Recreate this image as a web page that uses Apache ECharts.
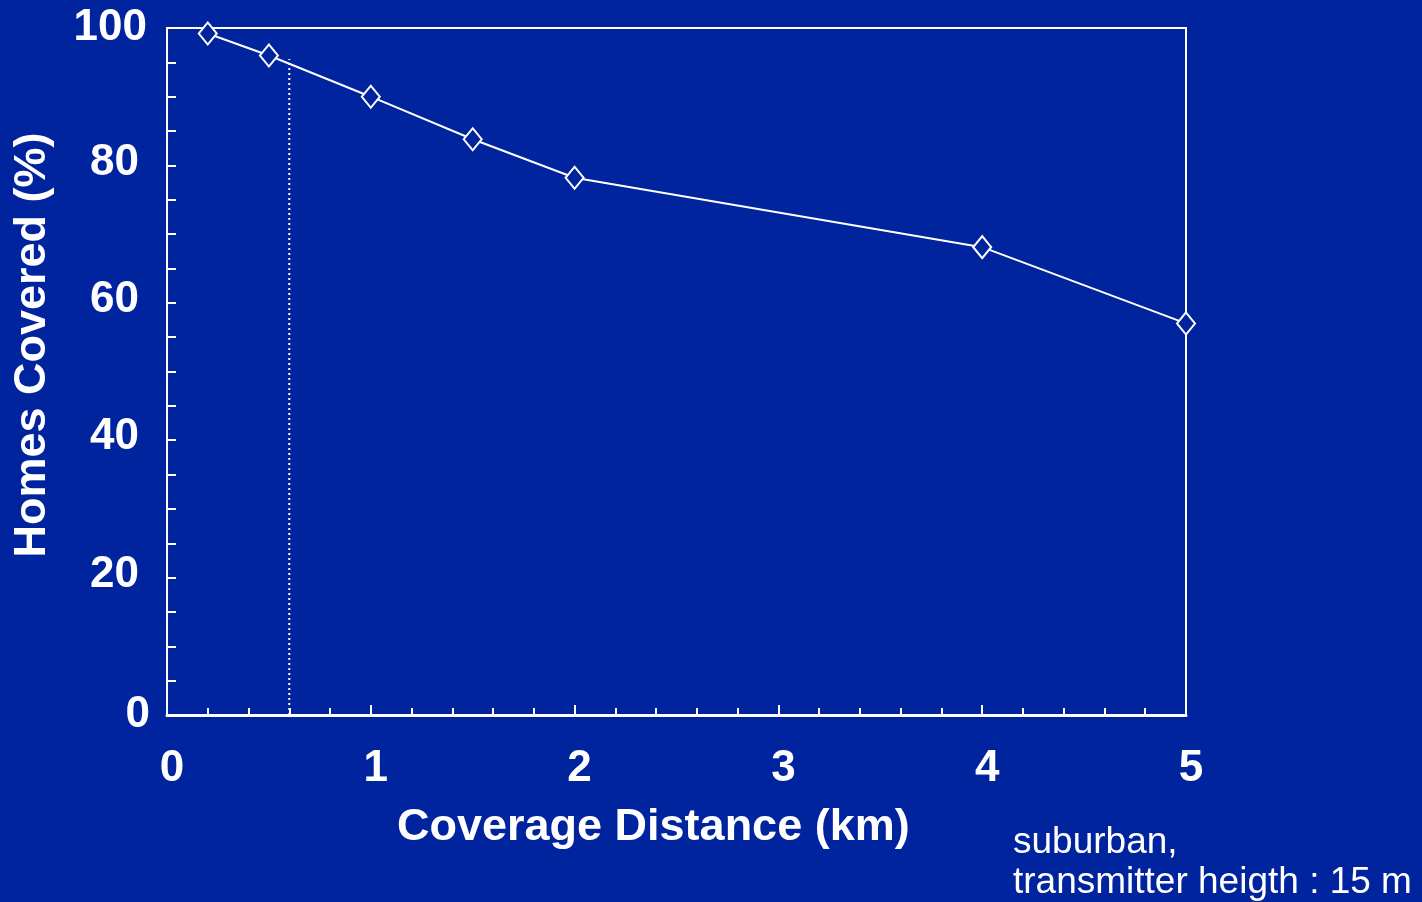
<!DOCTYPE html>
<html>
<head>
<meta charset="utf-8">
<script src="https://cdn.jsdelivr.net/npm/echarts@6/dist/echarts.min.js"></script>
<style>
html,body{margin:0;padding:0;background:#00239E;}
#c{width:1422px;height:902px;}
</style>
</head>
<body>
<div id="c"></div>
<script>
// Data
var distanceKm = [0.2, 0.5, 1.0, 1.5, 2.0, 4.0, 5.0];
var homesCovered = [99.2, 96.0, 90.0, 83.8, 78.2, 68.1, 57.0];
var markerLineX = [0.6, 0.6];
var markerLineY = [0, 95.5];
var xTickLabels = ['0', '1', '2', '3', '4', '5'];
var yTickLabels = ['0', '20', '40', '60', '80', '100'];

var BG = '#00239E';
var FONT = '"Liberation Sans", Arial, Helvetica, sans-serif';

var chart = echarts.init(document.getElementById('c'), null, {renderer: 'canvas'});
chart.setOption({
  backgroundColor: BG,
  animation: false,
  grid: {left: 167, right: 236, top: 28, bottom: 187, show: true, borderColor: '#fff', borderWidth: 2, backgroundColor: 'transparent'},
  xAxis: {
    type: 'value', min: 0, max: 5, interval: 1,
    axisLine: {show: true, lineStyle: {color: '#fff', width: 3}},
    axisTick: {show: true, inside: true, length: 10, lineStyle: {color: '#fff', width: 2}},
    minorTick: {show: true, splitNumber: 5, length: 7, lineStyle: {color: '#fff', width: 2}},
    splitLine: {show: false},
    axisLabel: {
      color: '#fff', fontFamily: FONT, fontWeight: 'bold', fontSize: 44, margin: 32,
      padding: [0, 0, 0, 10],
      formatter: function (v) { return xTickLabels[Math.round(v)]; }
    }
  },
  yAxis: {
    type: 'value', min: 0, max: 100, interval: 20,
    axisLine: {show: true, lineStyle: {color: '#fff', width: 2}},
    axisTick: {show: true, inside: true, length: 9, lineStyle: {color: '#fff', width: 2}},
    minorTick: {show: true, splitNumber: 4, length: 9, lineStyle: {color: '#fff', width: 2}},
    splitLine: {show: false},
    axisLabel: {
      color: '#fff', fontFamily: FONT, fontWeight: 'bold', fontSize: 44, margin: 17,
      formatter: function (v) {
        var t = yTickLabels[Math.round(v / 20)];
        if (t.length === 1) return '{a|' + t + '}';
        if (t.length === 2) return '{b|' + t + '}';
        return '{c|' + t + '}';
      },
      rich: {
        a: {color: '#fff', fontFamily: FONT, fontWeight: 'bold', fontSize: 44, padding: [0, 0, 0, 0]},
        b: {color: '#fff', fontFamily: FONT, fontWeight: 'bold', fontSize: 44, padding: [0, 11, 6, 0]},
        c: {color: '#fff', fontFamily: FONT, fontWeight: 'bold', fontSize: 44, padding: [0, 3, 0, 0]}
      }
    }
  },
  graphic: [
    {type: 'text', left: 397, top: 805, style: {text: 'Coverage Distance (km)', fill: '#fff', font: 'bold 45px ' + FONT}},
    {type: 'text', x: 33, y: 345, rotation: Math.PI / 2, style: {text: 'Homes Covered (%)', fill: '#fff', font: 'bold 45px ' + FONT, textAlign: 'center', textVerticalAlign: 'middle'}},
    {type: 'text', left: 1013, top: 823, style: {text: 'suburban,\ntransmitter heigth : 15 m', fill: '#fff', font: '37px ' + FONT, lineHeight: 40}}
  ],
  series: [
    {
      type: 'line',
      data: markerLineX.map(function (x, i) { return [x, markerLineY[i]]; }),
      symbol: 'none',
      lineStyle: {color: '#fff', width: 2, type: [2, 3]},
      z: 1
    },
    {
      type: 'line',
      data: distanceKm.map(function (x, i) { return [x, homesCovered[i]]; }),
      symbol: 'diamond', symbolSize: [18, 22],
      showAllSymbol: true,
      lineStyle: {color: '#fff', width: 2},
      itemStyle: {color: BG, borderColor: '#fff', borderWidth: 2, opacity: 1},
      z: 3
    }
  ]
});
</script>
</body>
</html>
